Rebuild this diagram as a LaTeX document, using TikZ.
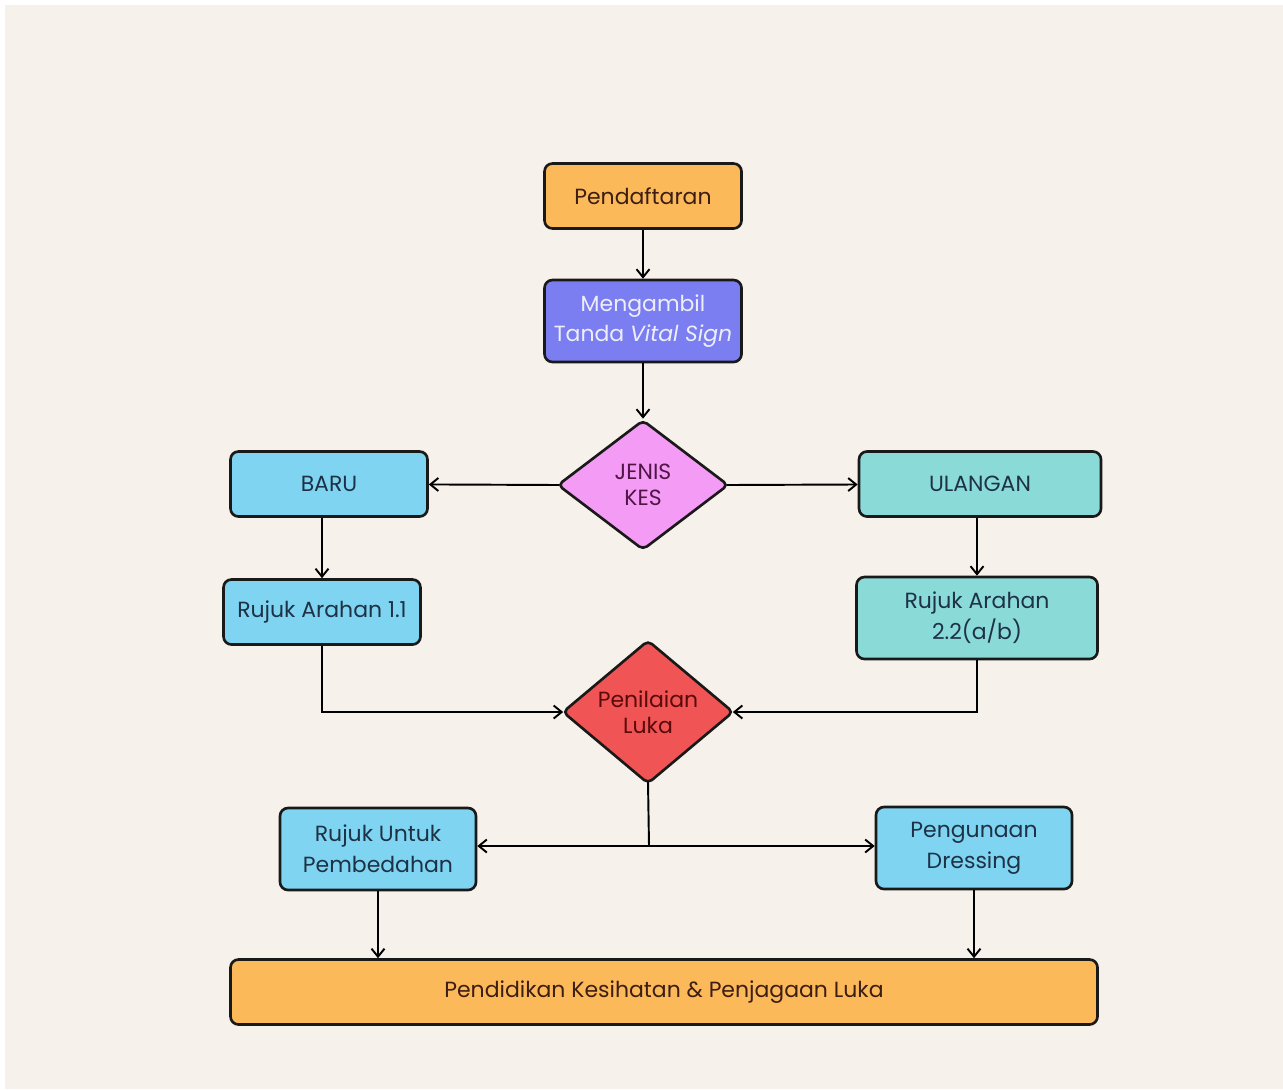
\documentclass[tikz,border=0pt]{standalone}
\usepackage{fontspec}
\setmainfont{Poppins}
\usetikzlibrary{shapes.geometric,arrows.meta}
\definecolor{cream}{HTML}{F6F2EB}
\definecolor{boxorange}{HTML}{FCB95A}
\definecolor{boxviolet}{HTML}{7A7EF0}
\definecolor{boxpink}{HTML}{F49CF5}
\definecolor{boxblue}{HTML}{7FD4F2}
\definecolor{boxteal}{HTML}{8ADAD8}
\definecolor{boxred}{HTML}{F05454}
\definecolor{txtbrown}{HTML}{3C1E14}
\definecolor{txtnavy}{HTML}{1E3246}
\definecolor{txtlight}{HTML}{EEEEFA}
\definecolor{txtplum}{HTML}{501446}
\definecolor{txtmaroon}{HTML}{5A0A0A}
\tikzset{
  box/.style={draw=black!90,line width=1.5pt,rounded corners=0.16cm,align=center,inner sep=0mm,
    font=\fontsize{12.5}{17.5}\selectfont},
  choice/.style={draw=black!90,line width=1.5pt,diamond,rounded corners=0.1cm,align=center,inner sep=0mm,
    font=\fontsize{12.5}{15}\selectfont},
  arr/.style={line width=1.1pt,-{Straight Barb[length=1.6mm,width=2.6mm]}},
}
\begin{document}
\begin{tikzpicture}[x=0.02cm,y=-0.02cm]
                \fill[white] (0,0) rectangle (1283,1089);
                \fill[cream] (5,5) rectangle (1283,1089);
                \foreach \x/\y/\n/\w/\h/\c/\tc/\t in {643/196/daftar/197/65/boxorange/txtbrown/Pendaftaran, 643/321/vital/197/82/boxviolet/txtlight/{Mengambil\\Tanda \textit{Vital Sign}}, 329/484/baru/197/65/boxblue/txtnavy/BARU, 980/484/ulangan/242/65/boxteal/txtnavy/ULANGAN, 322/612/rujuksatu/197/65/boxblue/txtnavy/Rujuk Arahan 1.1, 977/618/rujukdua/241/82/boxteal/txtnavy/{Rujuk Arahan\\2.2(a/b)}, 378/849/bedah/196/82/boxblue/txtnavy/{Rujuk Untuk\\Pembedahan}, 974/848/dressing/196/82/boxblue/txtnavy/{Pengunaan\\Dressing}, 664/992/didik/867/65/boxorange/txtbrown/Pendidikan Kesihatan \& Penjagaan Luka}
                \node[box,fill=\c,text=\tc,minimum width=\w*0.02cm,minimum height=\h*0.02cm] (\n) at (\x,\y) {\t};
                \foreach \x/\y/\n/\c/\tc/\t in {643/485/jenis/boxpink/txtplum/{JENIS\\KES}, 648/712/nilai/boxred/txtmaroon/{Penilaian\\Luka}}
                \node[choice,fill=\c,text=\tc,minimum width=171*0.02cm,minimum height=130*0.02cm] (\n) at (\x,\y) {\t};
                \coordinate (pecah) at (649,846);
                \foreach \s/\t in {daftar/vital, vital/jenis}
                \draw[arr] (\s) -- (\t);
                \draw[arr] ([xshift=0.06cm]jenis.west) -- (baru);
                \draw[arr] ([xshift=-0.06cm]jenis.east) -- (ulangan);
                \draw[arr] (rujuksatu.north |- baru.south) -- (rujuksatu.north);
                \draw[arr] (rujukdua.north |- ulangan.south) -- (rujukdua.north);
                \draw[arr] (rujuksatu.south) |- ([xshift=0.04cm]nilai.west);
                \draw[arr] (rujukdua.south) |- ([xshift=-0.04cm]nilai.east);
                \draw[line width=1.1pt] ([yshift=0.06cm]nilai.south) -- (pecah);
                \draw[arr] (pecah) -- (pecah -| bedah.east);
                \draw[arr] (pecah) -- (pecah -| dressing.west);
                \draw[arr] (bedah.south) -- (bedah.south |- didik.north);
                \draw[arr] (dressing.south) -- (dressing.south |- didik.north);
            \end{tikzpicture}
\end{document}
